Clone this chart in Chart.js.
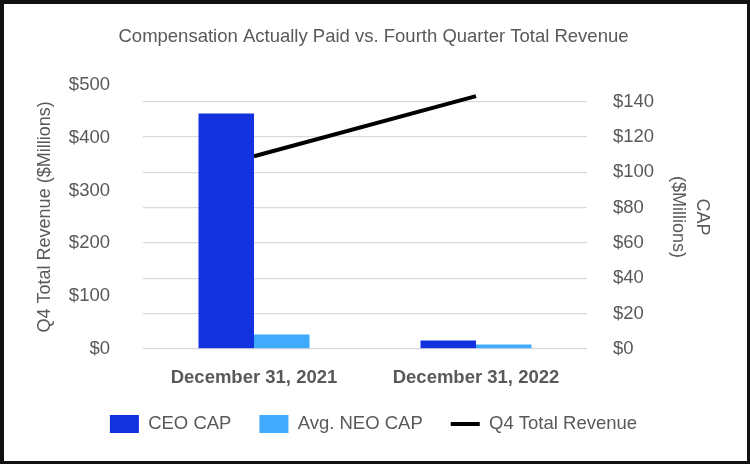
<!DOCTYPE html>
<html>
<head>
<meta charset="utf-8">
<script src="https://cdn.jsdelivr.net/npm/chart.js@4"></script>
<style>
  html, body { margin: 0; padding: 0; background: #fff; }
  #wrap { width: 750px; height: 464px; }
</style>
</head>
<body>
<div id="wrap"><canvas id="c" width="750" height="464"></canvas></div>
<script>
const categories = ['December 31, 2021', 'December 31, 2022'];
const ceoCap = [133.4, 4.7];
const neoCap = [8.1, 2.4];
const q4Revenue = [365, 479];
const revenueTicks = [0, 100, 200, 300, 400, 500];
const capTicks = [0, 20, 40, 60, 80, 100, 120, 140];

const FONT = "'Liberation Sans', Arial, sans-serif";
const GRAY = '#595959';

const framePlugin = {
  id: 'frame',
  beforeDraw(chart) {
    const ctx = chart.ctx;
    ctx.save();
    ctx.fillStyle = '#ffffff';
    ctx.fillRect(0, 0, chart.width, chart.height);
    ctx.restore();
  },
  afterDraw(chart) {
    const ctx = chart.ctx;
    const w = chart.width, h = chart.height;
    ctx.save();
    ctx.fillStyle = '#111111';
    ctx.fillRect(0, 0, w, 4);
    ctx.fillRect(0, 0, 4, h);
    ctx.fillRect(w - 3, 0, 3, h);
    ctx.fillRect(0, h - 3, w, 3);
    ctx.restore();
  }
};

new Chart(document.getElementById('c'), {
  type: 'bar',
  data: {
    labels: categories,
    datasets: [
      {
        label: 'CEO CAP',
        data: ceoCap,
        backgroundColor: '#1232E0',
        yAxisID: 'y1',
        categoryPercentage: 0.5,
        barPercentage: 1.0
      },
      {
        label: 'Avg. NEO CAP',
        data: neoCap,
        backgroundColor: '#40ABFC',
        yAxisID: 'y1',
        categoryPercentage: 0.5,
        barPercentage: 1.0
      },
      {
        type: 'line',
        label: 'Q4 Total Revenue',
        data: q4Revenue,
        borderColor: '#000000',
        backgroundColor: '#000000',
        borderWidth: 4,
        pointRadius: 0,
        pointHoverRadius: 0,
        tension: 0,
        yAxisID: 'y'
      }
    ]
  },
  options: {
    responsive: false,
    animation: false,
    devicePixelRatio: 1,
    layout: { padding: { left: 21, right: 24, top: 5, bottom: 20.7 } },
    plugins: {
      tooltip: { enabled: false },
      title: {
        display: true,
        text: 'Compensation Actually Paid vs. Fourth Quarter Total Revenue',
        color: GRAY,
        font: { family: FONT, size: 18.5, weight: 'normal', lineHeight: 1.2 },
        padding: { top: 21, bottom: 36.8 }
      },
      legend: {
        position: 'bottom',
        labels: {
          color: GRAY,
          font: { family: FONT, size: 18.5, lineHeight: 1.2 },
          usePointStyle: true,
          pointStyleWidth: 29,
          boxWidth: 29,
          boxHeight: 18,
          padding: 28,
          generateLabels(chart) {
            const items = Chart.defaults.plugins.legend.labels.generateLabels(chart);
            items.forEach(it => {
              const ds = chart.data.datasets[it.datasetIndex];
              if (ds.type === 'line') {
                it.pointStyle = 'line';
                it.lineWidth = 4;
                it.strokeStyle = '#000000';
                it.fillStyle = '#000000';
              } else {
                it.pointStyle = 'rect';
                it.lineWidth = 0;
                it.fillStyle = ds.backgroundColor;
                it.strokeStyle = ds.backgroundColor;
              }
            });
            return items;
          }
        }
      }
    },
    scales: {
      x: {
        grid: { display: false, drawTicks: false },
        border: { display: false },
        ticks: {
          color: GRAY,
          font: { family: FONT, size: 18.5, weight: 'bold', lineHeight: 1.2 },
          padding: 17.6,
          maxRotation: 0
        },
        afterFit(scale) { scale.height = 38; }
      },
      y: {
        position: 'left',
        min: 0,
        max: 500,
        grid: { display: false, drawTicks: false },
        border: { display: false },
        afterBuildTicks(scale) { scale.ticks = revenueTicks.map(v => ({ value: v })); },
        ticks: {
          color: GRAY,
          font: { family: FONT, size: 18.5, lineHeight: 1.2 },
          padding: 33,
          callback: v => '$' + v
        },
        title: {
          display: true,
          text: 'Q4 Total Revenue ($Millions)',
          color: GRAY,
          font: { family: FONT, size: 18, lineHeight: 1.3333 },
          padding: { top: 12, bottom: 0 }
        },
        afterFit(scale) { scale.width = 122; }
      },
      y1: {
        position: 'right',
        min: 0,
        max: 149.5,
        grid: { display: true, drawTicks: false, color: '#d9d9d9', lineWidth: 1.3 },
        border: { display: false },
        afterBuildTicks(scale) { scale.ticks = capTicks.map(v => ({ value: v })); },
        ticks: {
          color: GRAY,
          font: { family: FONT, size: 18.5, lineHeight: 1.2 },
          padding: 26,
          callback: v => '$' + v
        },
        title: {
          display: true,
          text: ['CAP', '($Millions)'],
          color: GRAY,
          font: { family: FONT, size: 18, lineHeight: 1.3333 },
          padding: { top: 12, bottom: 0 }
        },
        afterFit(scale) { scale.width = 139; }
      }
    }
  },
  plugins: [framePlugin]
});
</script>
</body>
</html>
